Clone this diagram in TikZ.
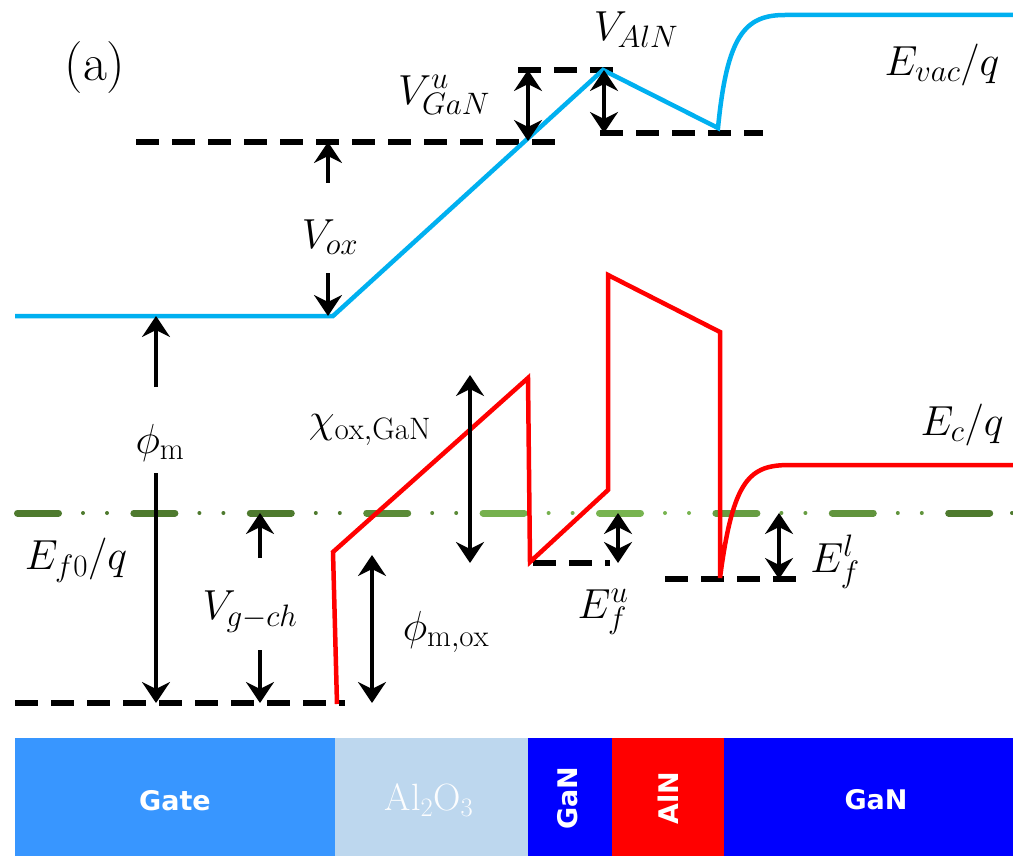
\RequirePackage{fix-cm}
\documentclass[tikz,border=0pt]{standalone}
\usepackage{fontspec}
\newfontfamily\boxfont{DejaVu Sans}
\usetikzlibrary{arrows.meta}
\DeclareMathSizes{42}{42}{31}{24}
\definecolor{bandblue}{RGB}{0,176,240}
\definecolor{bandred}{RGB}{255,0,0}
\definecolor{gdark}{RGB}{78,122,46}
\definecolor{glight}{RGB}{120,180,80}
\definecolor{gatecol}{RGB}{56,150,255}
\definecolor{oxcol}{RGB}{189,215,238}
\definecolor{gancol}{RGB}{0,0,255}
\definecolor{alncol}{RGB}{255,0,0}
\tikzset{
  blk/.style={line width=6.5pt, black, dash pattern=on 23pt off 13pt},
  band/.style={line width=4.5pt, line join=miter},
  meas/.style={line width=3.4pt, black, {Stealth[length=21pt,width=28pt,inset=7pt]}-{Stealth[length=21pt,width=28pt,inset=7pt]}},
  measup/.style={line width=3.4pt, black, -{Stealth[length=21pt,width=28pt,inset=7pt]}},
  lab/.style={inner sep=0pt, font=\fontsize{42}{50}\selectfont},
  layer/.style={draw=none, inner sep=0pt, minimum height=118pt, anchor=north west},
  layertext/.style={text=white, font=\boxfont\bfseries\fontsize{27}{32}\selectfont, inner sep=0pt}
}
\begin{document}
\begin{tikzpicture}[x=1pt,y=-1pt]
\useasboundingbox (0,0) rectangle (1013,856);
\fill[white] (0,0) rectangle (1013,856);
% layers
\node[layer, fill=gatecol, minimum width=320pt] (gate) at (15,738) {};
\node[layer, fill=oxcol, minimum width=193pt] (ox) at (335,738) {};
\node[layer, fill=gancol, minimum width=84pt] (gan1) at (528,738) {};
\node[layer, fill=alncol, minimum width=112pt] (aln) at (612,738) {};
\node[layer, fill=gancol, minimum width=289pt] (gan2) at (724,738) {};
\node[layertext] (tgate) at (175,801) {Gate};
\node[inner sep=0pt, text=white!96!oxcol, font=\fontsize{38}{44}\selectfont] (tox) at (429,800) {$\mathrm{Al_2O_3}$};
\node[layertext, rotate=90] (tgan1) at (568,798) {GaN};
\node[layertext, rotate=90] (taln) at (668,798) {AlN};
\node[layertext] (tgan2) at (876,800) {GaN};
% dashed reference lines
\coordinate (d1a) at (136,142); \coordinate (d1b) at (561,142);
\coordinate (d2a) at (518,70);  \coordinate (d2b) at (613,70);
\coordinate (d3a) at (600,133); \coordinate (d3b) at (763,133);
\coordinate (d4a) at (15,703);  \coordinate (d4b) at (345,703);
\coordinate (d5a) at (533,563); \coordinate (d5b) at (610,563);
\coordinate (d6a) at (665,579); \coordinate (d6b) at (797,579);
\draw[blk] (d1a) -- (d1b);
\draw[blk] (d2a) -- (d2b);
\draw[blk] (d3a) -- (d3b);
\draw[blk] (d4a) -- (d4b);
\draw[blk] (d5a) -- (d5b);
\draw[blk] (d6a) -- (d6b);
% Fermi level dash-dot line
\foreach \i/\p in {0/100,1/100,2/100,3/70,4/5,5/0,6/40,7/55,8/100} {
  \pgfmathsetmacro{\xs}{14+116.4*\i}
  \draw[line width=7pt, line cap=round, color=gdark!\p!glight] (\xs+3.5,513) -- (\xs+44.5,513);
  \fill[color=gdark!\p!glight] (\xs+69,513) circle (2pt);
  \fill[color=gdark!\p!glight] (\xs+93,513) circle (2pt);
}
\fill[gdark] (1012,513) circle (2pt);
% vacuum level (blue)
\draw[band, bandblue] (15,316) -- (333,316) -- (603,70) -- (718,128)
  .. controls (727,35) and (745,15) .. (785,15) -- (1013,15);
% conduction band (red)
\draw[band, bandred] (337,704) -- (333,552) -- (528,378) -- (530,562) -- (608,490)
  -- (608,275) -- (720,332) -- (720,578)
  .. controls (733,478) and (750,465) .. (790,465) -- (1013,465);
% measurement arrows
\coordinate (vox1) at (328,183); \coordinate (vox1t) at (328,142);
\coordinate (vox2) at (328,273); \coordinate (vox2t) at (328,316);
\coordinate (pm1) at (156,387);  \coordinate (pm1t) at (156,316);
\coordinate (pm2) at (156,473);  \coordinate (pm2t) at (156,703);
\coordinate (vg1) at (260,558);  \coordinate (vg1t) at (260,513);
\coordinate (vg2) at (260,650);  \coordinate (vg2t) at (260,703);
\coordinate (chiA) at (470,375); \coordinate (chiB) at (470,563);
\coordinate (pmoA) at (372,555); \coordinate (pmoB) at (372,703);
\coordinate (efuA) at (618,513); \coordinate (efuB) at (618,563);
\coordinate (eflA) at (779,513); \coordinate (eflB) at (779,579);
\coordinate (vgnA) at (528,70);  \coordinate (vgnB) at (528,141);
\coordinate (valA) at (604,70);  \coordinate (valB) at (604,133);
\draw[measup] (vox1) -- (vox1t);
\draw[measup] (vox2) -- (vox2t);
\draw[measup] (pm1) -- (pm1t);
\draw[measup] (pm2) -- (pm2t);
\draw[measup] (vg1) -- (vg1t);
\draw[measup] (vg2) -- (vg2t);
\draw[meas] (chiA) -- (chiB);
\draw[meas] (pmoA) -- (pmoB);
\draw[meas] (efuA) -- (efuB);
\draw[meas] (eflA) -- (eflB);
\draw[meas] (vgnA) -- (vgnB);
\draw[meas] (valA) -- (valB);
% labels
\node[lab, font=\fontsize{52}{60}\selectfont] (la) at (95,68) {(a)};
\node[lab] (lVox) at (330,237) {$V_{ox}$};
\node[lab] (lVgan) at (444,95) {$V^{u}_{GaN}$};
\node[lab] (lValn) at (636,30) {$V_{AlN}$};
\node[lab] (lEvac) at (942,65) {$E_{vac}/q$};
\node[lab] (lphim) at (160,443) {$\phi_{\mathrm{m}}$};
\node[lab] (lchi) at (370,430) {$\chi_{\mathrm{ox,GaN}}$};
\node[lab] (lEc) at (962,425) {$E_{c}/q$};
\node[lab] (lEf0) at (76,560) {$E_{f0}/q$};
\node[lab] (lVgch) at (250,612) {$V_{g-ch}$};
\node[lab] (lphimox) at (446,632) {$\phi_{\mathrm{m,ox}}$};
\node[lab] (lEfu) at (603,612) {$E^{u}_{f}$};
\node[lab] (lEfl) at (835,562) {$E^{l}_{f}$};
\end{tikzpicture}
\end{document}
